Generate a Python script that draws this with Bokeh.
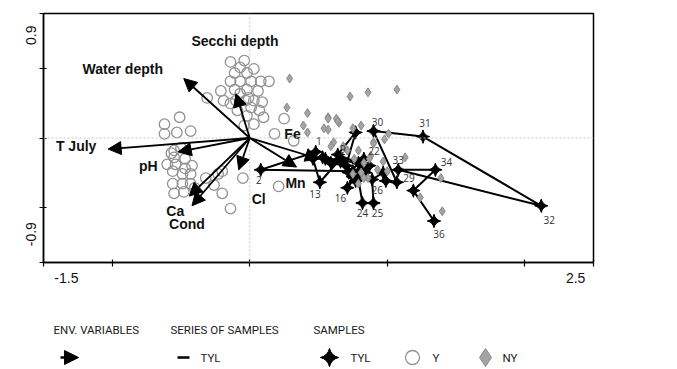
import math
from bokeh.plotting import figure
from bokeh.models import ColumnDataSource, Arrow, NormalHead, Span, FixedTicker, Range1d, LinearAxis
from bokeh.layouts import column
from bokeh.embed import file_html
from bokeh.resources import INLINE
from bokeh.core.properties import value

# ---------------- data ----------------
env_names = ["T July", "pH", "Water depth", "Secchi depth", "Ca", "Cond", "Cl", "Mn", "Fe"]
env_x = [-1.03, -0.52, -0.48, -0.10, -0.44, -0.42, -0.08, 0.34, 0.50]
env_y = [-0.08, -0.10, 0.43, 0.32, -0.42, -0.49, -0.23, -0.21, -0.15]

tyl_ids = [str(i) for i in range(1, 37)]
tyl_x = [0.48, 0.08, 0.75, 0.66, 0.55, 0.59, 0.70, 0.77, 0.64, 0.79,
         0.53, 0.46, 0.51, 0.66, 0.75, 0.71, 0.81, 0.87, 0.77, 0.84,
         0.72, 0.83, 0.79, 0.82, 0.90, 0.89, 0.97, 0.99, 1.07, 0.90,
         1.26, 2.12, 1.08, 1.35, 1.19, 1.34]
tyl_y = [-0.10, -0.23, -0.24, -0.17, -0.15, -0.18, -0.20, 0.04, -0.12, -0.18,
         -0.14, -0.15, -0.32, -0.15, -0.28, -0.36, -0.23, -0.20, -0.31, -0.25,
         -0.25, -0.15, -0.30, -0.47, -0.47, -0.30, -0.25, -0.31, -0.32, 0.05,
         0.01, -0.49, -0.23, -0.23, -0.38, -0.60]
tyl_labeled = ["1", "2", "9", "13", "16", "22", "24", "25", "26", "29",
               "30", "31", "32", "33", "34", "36"]

y_x = [-0.14, -0.04, -0.07, 0.03, -0.11, -0.02, -0.14, -0.07, 0.01, 0.08,
       0.14, -0.21, -0.11, -0.02, 0.06, -0.07, -0.01, -0.19, -0.10, -0.03,
       0.03, 0.09, -0.31, -0.14, 0.01, 0.07, 0.10, -0.02, 0.03, 0.25,
       0.18, 0.32, -0.04, -0.09, 0.21,
       -0.62, -0.51, -0.62, -0.53, -0.43, -0.55, -0.55, -0.54, -0.47, -0.42,
       -0.56, -0.49, -0.43, -0.56, -0.49, -0.43, -0.55, -0.48, -0.40, -0.32,
       -0.23, -0.26, -0.20, -0.05, -0.20, -0.14, -0.50, -0.57, -0.60, -0.47]
y_y = [0.55, 0.56, 0.51, 0.50, 0.47, 0.47, 0.41, 0.41, 0.41, 0.41,
       0.41, 0.34, 0.35, 0.35, 0.34, 0.32, 0.29, 0.27, 0.27, 0.27,
       0.27, 0.26, 0.29, 0.25, 0.22, 0.20, 0.15, 0.16, 0.10, 0.14,
       0.03, -0.02, 0.09, 0.20, -0.35,
       0.10, 0.15, 0.03, 0.04, 0.05, -0.09, -0.14, -0.19, -0.22, -0.20,
       -0.24, -0.26, -0.26, -0.33, -0.33, -0.33, -0.40, -0.39, -0.36, -0.29,
       -0.26, -0.34, -0.24, -0.29, -0.40, -0.51, -0.07, -0.11, -0.19, -0.15]

ny_x = [0.29, 0.73, 0.86, 1.07, 0.27, 0.42, 0.57, 0.63, 0.65, 0.39,
        0.57, 0.42, 0.75, 0.81, 1.01, 0.98, 0.90, 0.61, 0.59, 1.13,
        1.39, 1.24, 1.40, 0.90, 0.79, 0.76, 0.83, 0.88, 0.81, 0.97,
        0.93, 0.86, 1.00, 0.54, 0.68, 0.71, 0.75, 0.79, 0.87, 0.83,
        0.64, 0.57]
ny_y = [0.43, 0.30, 0.33, 0.35, 0.22, 0.18, 0.15, 0.14, 0.11, 0.09,
        0.06, 0.04, 0.07, 0.09, 0.03, -0.01, -0.03, -0.03, -0.06, -0.14,
        -0.29, -0.43, -0.53, -0.04, -0.09, -0.15, -0.18, -0.13, -0.25, -0.17,
        -0.23, -0.29, -0.24, 0.07, -0.06, -0.09, -0.26, -0.33, -0.15, -0.29,
        0.12, 0.14]

# axis range end labels (CanoDraw style: range limits written just inside the ends)
x_end_labels = {-1.5: "-1.5", 2.5: "2.5"}
y_end_labels = {-0.9: "-0.9", 0.9: "0.9"}

# legend
leg_titles = ["ENV. VARIABLES", "SERIES OF SAMPLES", "SAMPLES"]
leg_item_labels = ["TYL", "TYL", "Y", "NY"]

# label placement (screen pixel offsets from the point)
env_dx = [-32, -30, -61, -1, -14, -5, 20, -1, -26]
env_dy = [-3, 14, -10, -53, 15, 18, 29, 16, -25]
lab_dx = [3, -2, 5, -5, -7, 10, 0, 4, 5, 12, 4, 2, 8, 0, 11, 5]
lab_dy = [-11, 10, -6, 12, 10, -8, 10, 10, 10, -4, -9, -14, 14, -10, -8, 13]

BL, BR = 43, 84

# ---------------- main plot ----------------
p = figure(width=677, height=300, x_range=Range1d(-1.5, 2.5), y_range=Range1d(-0.9, 0.9),
           output_backend="svg", toolbar_location=None,
           min_border_left=BL, min_border_right=BR, min_border_top=13, min_border_bottom=38)
p.xgrid.visible = False
p.ygrid.visible = False
p.outline_line_color = "black"
p.outline_line_width = 1.5
p.outline_line_alpha = 1.0
p.background_fill_color = "white"
p.border_fill_color = "white"

# tick-mark axes (no labels)
p.xaxis.ticker = FixedTicker(ticks=[-1.5, -1, 0, 1, 2, 2.5])
p.yaxis.ticker = FixedTicker(ticks=[-0.9, -0.5, 0, 0.5, 0.9])
for ax in (p.xaxis[0], p.yaxis[0]):
    ax.axis_line_color = "black"
    ax.axis_line_width = 1.5
    ax.major_tick_line_color = "black"
    ax.major_tick_line_width = 1.2
    ax.major_tick_in = 3
    ax.major_tick_out = 4
    ax.minor_tick_line_color = None
    ax.major_label_text_font_size = "0px"
    ax.major_label_standoff = 0
    ax.major_label_overrides = {t: "" for t in ax.ticker.ticks}

# range-end label axes, written inward of the corners as in the original
p.extra_x_ranges = {"xlab": Range1d(-1.68, 2.64)}
p.extra_y_ranges = {"ylab": Range1d(-1.27, 1.01)}
xl = LinearAxis(x_range_name="xlab", ticker=FixedTicker(ticks=list(x_end_labels.keys())))
yl = LinearAxis(y_range_name="ylab", ticker=FixedTicker(ticks=list(y_end_labels.keys())))
xl.major_label_overrides = x_end_labels
yl.major_label_overrides = y_end_labels
yl.major_label_orientation = math.pi / 2
for ax in (xl, yl):
    ax.axis_line_color = None
    ax.major_tick_line_color = None
    ax.minor_tick_line_color = None
    ax.major_tick_in = 0
    ax.major_tick_out = 0
    ax.major_label_text_font = "Liberation Sans"
    ax.major_label_text_font_size = "14px"
    ax.major_label_text_color = "#111111"
xl.major_label_standoff = 6
yl.major_label_standoff = 8
p.add_layout(xl, "below")
p.add_layout(yl, "left")

p.add_layout(Span(location=0, dimension="width", line_color="#c8c8c8", line_dash="2 2", line_width=1))
p.add_layout(Span(location=0, dimension="height", line_color="#c8c8c8", line_dash="2 2", line_width=1))

p.scatter(y_x, y_y, marker="circle", size=10.5, fill_color=None, line_color="#929292", line_width=1.3)

env_src = ColumnDataSource(dict(x0=[0.0] * len(env_x), y0=[0.0] * len(env_y), x1=env_x, y1=env_y,
                                name=env_names, dx=env_dx, dy=env_dy))
p.add_layout(Arrow(end=NormalHead(size=13, fill_color="black", line_color="black"),
                   x_start="x0", y_start="y0", x_end="x1", y_end="y1",
                   source=env_src, line_width=1.8, line_color="black"))

p.line(tyl_x, tyl_y, line_color="black", line_width=2)
p.scatter(tyl_x, tyl_y, marker="square_pin", angle=math.pi / 4, size=9.5,
          fill_color="black", line_color="black")

p.scatter(ny_x, ny_y, marker="diamond", size=9, fill_color="#a3a3a3", line_color="#8a8a8a", line_width=1)

p.text(x="x1", y="y1", text="name", x_offset="dx", y_offset="dy", source=env_src,
       text_align="center", text_baseline="middle", text_font=value("Liberation Sans"),
       text_font_style="bold", text_font_size="14px", text_color="#111111")

lab_idx = [tyl_ids.index(t) for t in tyl_labeled]
lab_src = ColumnDataSource(dict(x=[tyl_x[i] for i in lab_idx], y=[tyl_y[i] for i in lab_idx],
                                t=tyl_labeled, dx=lab_dx, dy=lab_dy))
p.text(x="x", y="y", text="t", x_offset="dx", y_offset="dy", source=lab_src,
       text_align="center", text_baseline="middle", text_font=value("Open Sans"),
       text_font_size="10px", text_color="#333333")

# ---------------- legend strip (coordinates = page pixels) ----------------
lg = figure(width=677, height=69, x_range=Range1d(BL, 677 - BR), y_range=Range1d(69, 0),
            output_backend="svg", toolbar_location=None,
            min_border_left=BL, min_border_right=BR, min_border_top=0, min_border_bottom=0)
lg.axis.visible = False
lg.grid.visible = False
lg.outline_line_color = None

lg.text(x=[53, 170, 313], y=[29, 29, 29], text=leg_titles, text_align="left", text_baseline="middle",
        text_font=value("Roboto"), text_font_size="11.5px", text_color="#1a1a1a")
lg.add_layout(Arrow(end=NormalHead(size=14, fill_color="black", line_color="black"),
                    x_start=60, y_start=57, x_end=78, y_end=57, line_width=2.5, line_color="black"))
lg.segment(x0=[177], y0=[57], x1=[189], y1=[57], line_width=2.5, line_color="black")
lg.scatter([329], [57], marker="square_pin", angle=math.pi / 4, size=13, fill_color="black", line_color="black")
lg.scatter([412], [57], marker="circle", size=14, fill_color=None, line_color="#929292", line_width=1.3)
lg.scatter([485], [57], marker="diamond", size=18, fill_color="#a3a3a3", line_color="#8a8a8a")
lg.text(x=[200, 350, 432, 502], y=[57] * 4, text=leg_item_labels, text_align="left",
        text_baseline="middle", text_font=value("Roboto"), text_font_size="11.5px",
        text_color="#1a1a1a")

layout = column(p, lg, spacing=0)
open("out.html", "w").write(file_html(layout, INLINE))
